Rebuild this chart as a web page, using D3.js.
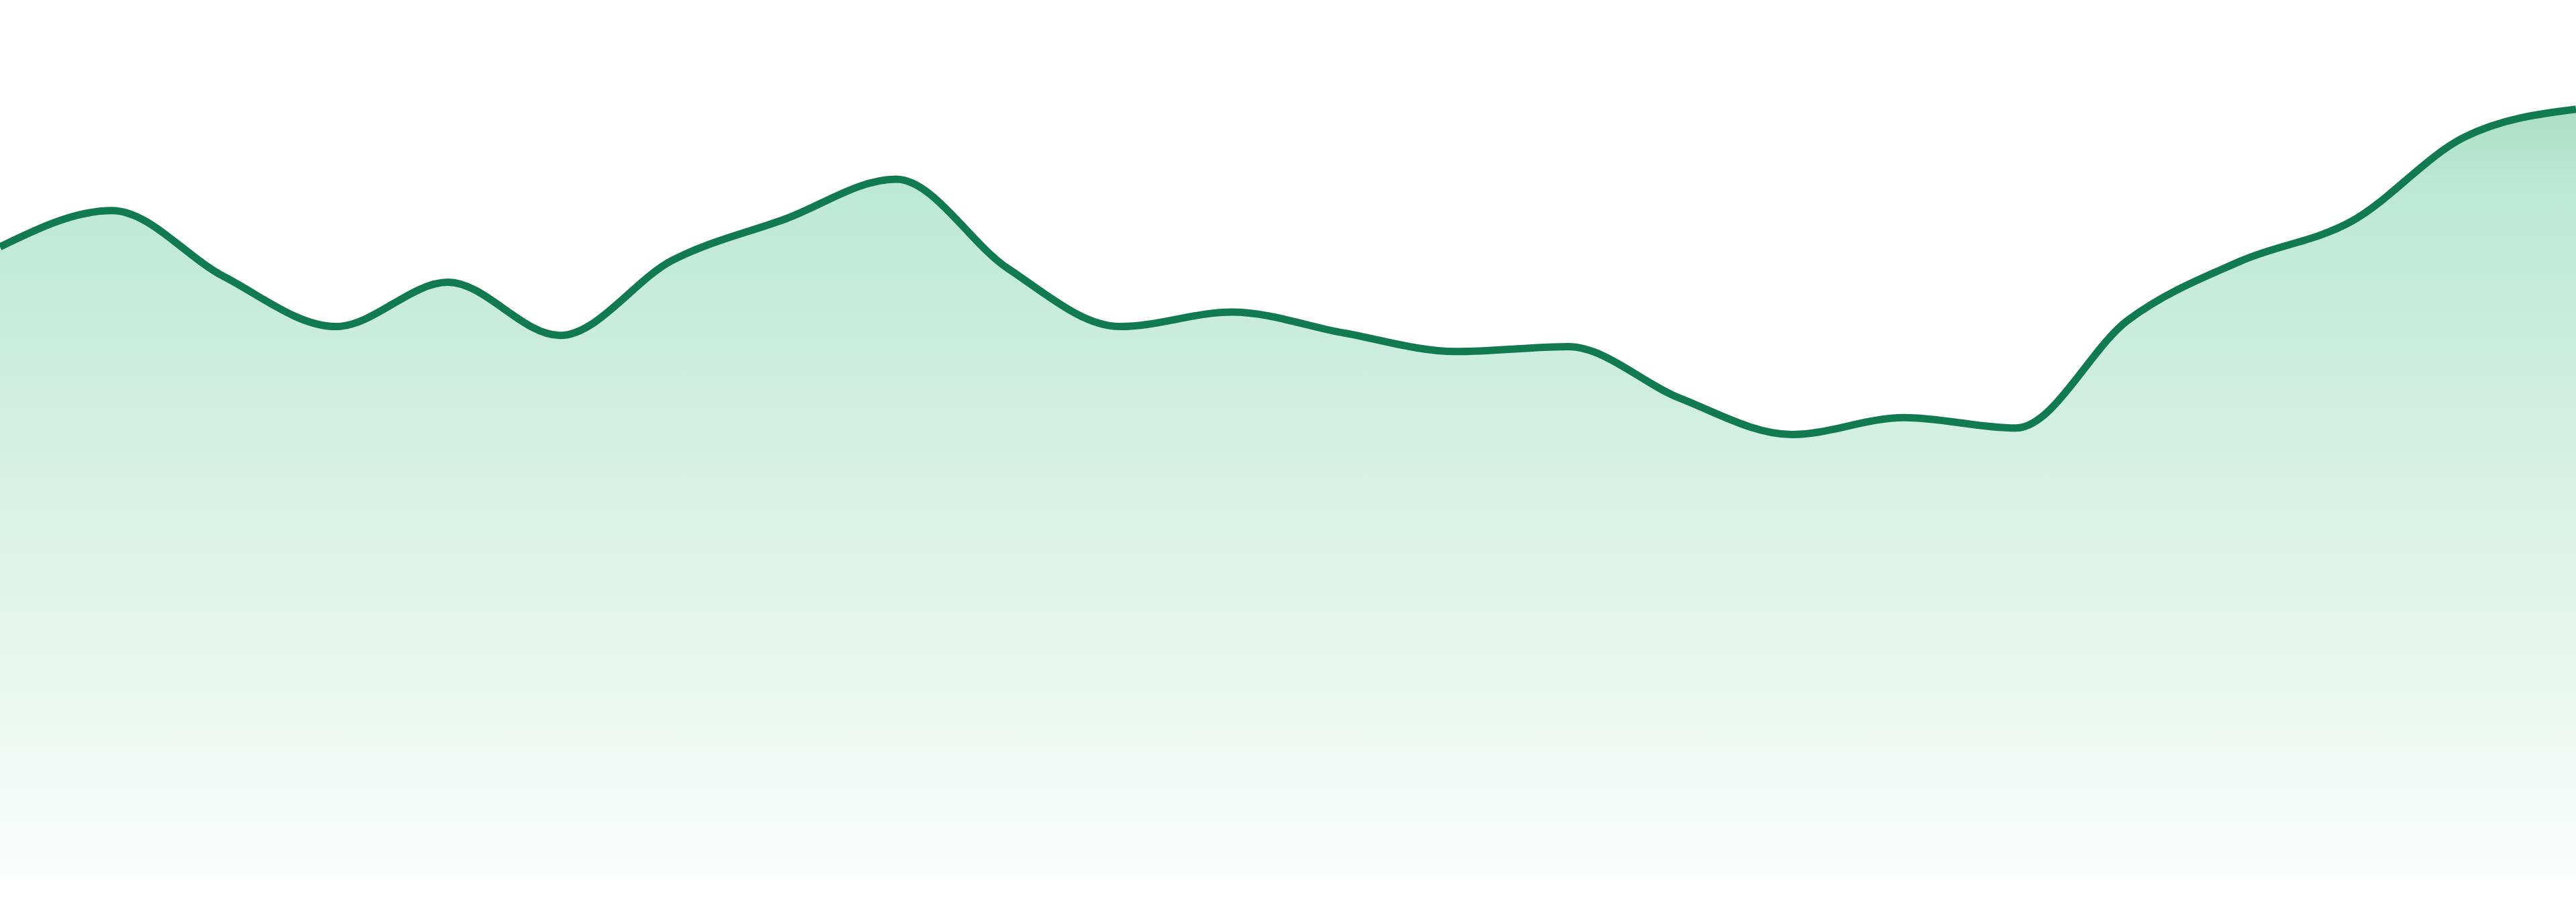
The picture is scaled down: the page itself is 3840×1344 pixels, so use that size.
<!DOCTYPE html>
<html>
<head>
<meta charset="utf-8">
<script src="https://cdn.jsdelivr.net/npm/d3@7"></script>
<style>
  html, body { margin: 0; padding: 0; background: #fff; }
  svg { display: block; }
</style>
</head>
<body>
<svg width="3840" height="1344"></svg>
<script>
// sampled points, one per step
const steps = ["1", "2", "3", "4", "5", "6", "7", "8", "9", "10", "11", "12",
               "13", "14", "15", "16", "17", "18", "19", "20", "21", "22", "23", "24"];
const values = [78.1, 82.6, 74.4, 68.2, 73.7, 67.1, 76.4, 81.5, 86.5, 75.4, 68.2, 70.0,
                67.4, 65.1, 65.7, 59.3, 54.8, 56.9, 55.6, 69.0, 76.3, 81.3, 91.7, 95.2];

const svg = d3.select("svg"),
    width = +svg.attr("width"),
    height = +svg.attr("height");

const x = d3.scalePoint()
    .domain(steps)
    .range([0, width]);

const y = d3.scaleLinear()
    .domain([0, 100])
    .range([1305, 105]);

const data = steps.map(function(s, i) { return {step: s, value: values[i]}; });

// Fill gradient, fades towards the baseline
const grad = svg.append("defs").append("linearGradient")
    .attr("id", "fade")
    .attr("x1", 0).attr("y1", 0)
    .attr("x2", 0).attr("y2", 1);

grad.selectAll("stop")
    .data([
      {o: "0%", c: "#abdec6"},
      {o: "10%", c: "#bde8d6"},
      {o: "50%", c: "#d8f1e6"},
      {o: "82%", c: "#eef9f4"},
      {o: "100%", c: "#fafdfc"}
    ])
    .enter().append("stop")
    .attr("offset", function(d) { return d.o; })
    .attr("stop-color", function(d) { return d.c; });

const area = d3.area()
    .x(function(d) { return x(d.step); })
    .y0(y(0))
    .y1(function(d) { return y(d.value); })
    .curve(d3.curveMonotoneX);

const line = d3.line()
    .x(function(d) { return x(d.step); })
    .y(function(d) { return y(d.value); })
    .curve(d3.curveMonotoneX);

svg.append("path")
    .datum(data)
    .attr("d", area)
    .attr("fill", "url(#fade)");

svg.append("path")
    .datum(data)
    .attr("d", line)
    .attr("fill", "none")
    .attr("stroke", "#117a51")
    .attr("stroke-width", 11)
    .attr("stroke-linejoin", "round");
</script>
</body>
</html>
